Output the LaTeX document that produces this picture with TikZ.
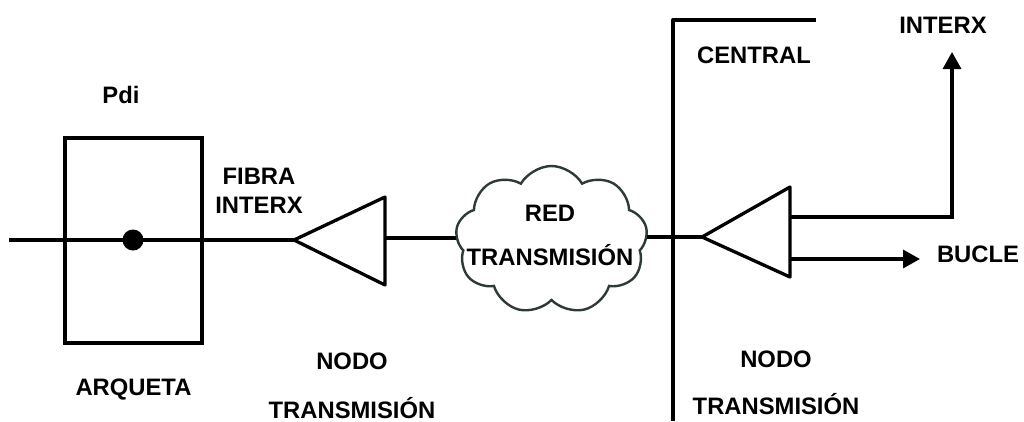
\documentclass[tikz,border=0pt]{standalone}
\usepackage{fontspec}
\setmainfont{Liberation Sans}
\usetikzlibrary{shapes.symbols,arrows.meta}
\definecolor{nubegris}{HTML}{2E3A3A}

\begin{document}
\begin{tikzpicture}[x=1pt,y=-1pt,
	lbl/.style={font=\bfseries\fontsize{23.8}{#1}\selectfont, align=center, inner sep=0pt, anchor=base},
	lbl/.default=29,
	linea/.style={line width=3.3pt, line join=round},
	flecha/.style={line width=3.3pt, -{Triangle[length=17pt,width=18pt]}},
	nube/.style={cloud, cloud puffs=9, cloud puff arc=120, aspect=1.4, draw=nubegris, line width=2.4pt, minimum width=192pt, minimum height=148pt, inner sep=0pt}]

	\useasboundingbox (0,0) rectangle (1024,421);

	\def\yLin{240}
	\def\yDer{237}
	\def\xBase{385}
	\def\xBaseD{790}

	%PUNTOS
	\coordinate (ini) at (9,\yLin);
	\coordinate (t1p) at (294,\yLin);
	\coordinate (t1a) at (\xBase,197);
	\coordinate (t1b) at (\xBase,285);
	\coordinate (t1s) at (\xBase,238);
	\coordinate (t2p) at (702,\yDer);
	\coordinate (t2a) at (\xBaseD,187);
	\coordinate (t2b) at (\xBaseD,277);
	\coordinate (t2s) at (\xBaseD,217);
	\coordinate (t2i) at (\xBaseD,259);
	\coordinate (codo) at (952,217);
	\coordinate (finInterx) at (952,52);
	\coordinate (finBucle) at (920,259);
	\coordinate (muroA) at (816,20);
	\coordinate (muroB) at (673,20);
	\coordinate (muroC) at (673,421);

	%ARQUETA
	\node[draw, line width=3.8pt, minimum width=137pt, minimum height=205pt, inner sep=0pt] (arqueta) at (133.5,240.5) {};
	\node[circle, fill, minimum size=21pt, inner sep=0pt] (punto) at (133,\yLin) {};

	%NUBE
	\node[nube] (red) at (551.5,240) {};

	%LINEAS
	\draw[linea] (ini) -- (t1p);
	\draw[linea] (t1p) -- (t1a) -- (t1b) -- cycle;
	\draw[linea] (t1s) -- (t1s -| red.west);
	\draw[linea] (red.east |- t2p) -- (t2p);
	\draw[linea] (t2p) -- (t2a) -- (t2b) -- cycle;
	\draw[flecha] (t2s) -- (codo) -- (finInterx);
	\draw[flecha] (t2i) -- (finBucle);
	\draw[linea] (muroA) -- (muroB) -- (muroC);

	%LABELS
	\node[lbl] (lblPdi) at (121,103) {Pdi};
	\node[lbl] (lblFibra) at (259,213) {FIBRA\\INTERX};
	\node[lbl=43.5] (lblRed) at (550,265) {RED\\TRANSMISIÓN};
	\node[lbl] (lblArqueta) at (133.5,395) {ARQUETA};
	\node[lbl=49] (lblNodoA) at (352,418) {NODO\\TRANSMISIÓN};
	\node[lbl=47] (lblNodoB) at (776,414) {NODO\\TRANSMISIÓN};
	\node[lbl] (lblCentral) at (754,63.3) {CENTRAL};
	\node[lbl] (lblInterx) at (943,33.3) {INTERX};
	\node[lbl] (lblBucle) at (978,262) {BUCLE};

\end{tikzpicture}
\end{document}
